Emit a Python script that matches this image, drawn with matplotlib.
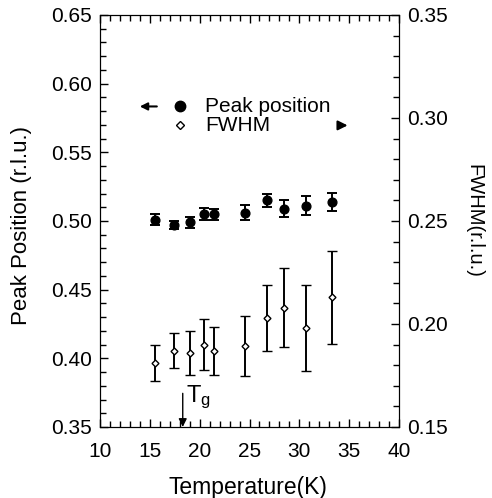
#!/usr/bin/env python3

import matplotlib
matplotlib.use("Agg")
import matplotlib.pyplot as plt
from matplotlib.ticker import MultipleLocator, FormatStrFormatter

plt.rcParams['font.family'] = ['Liberation Sans', 'DejaVu Sans']
plt.rcParams['mathtext.fontset'] = 'custom'
plt.rcParams['mathtext.rm'] = 'Liberation Sans'
plt.rcParams['mathtext.it'] = 'Liberation Sans'

# data
temp = [15.5, 17.4, 19.0, 20.4, 21.4, 24.5, 26.8, 28.5, 30.7, 33.3]
peak_pos = [0.501, 0.497, 0.499, 0.505, 0.505, 0.506, 0.515, 0.509, 0.511, 0.514]
peak_err = [0.004, 0.003, 0.004, 0.0045, 0.004, 0.0056, 0.005, 0.006, 0.007, 0.0067]
fwhm = [0.181, 0.187, 0.186, 0.190, 0.187, 0.1895, 0.203, 0.208, 0.198, 0.213]
fwhm_err = [0.0089, 0.0084, 0.0106, 0.0125, 0.0117, 0.0146, 0.016, 0.019, 0.021, 0.0226]
t_g = 18.3

fig = plt.figure(figsize=(4.92, 4.98), dpi=100)
ax = fig.add_axes([0.2033, 0.1426, 0.6077, 0.8273])
ax2 = ax.twinx()

ax.errorbar(temp, peak_pos, yerr=peak_err, fmt='o', color='black', ms=6.3,
            capsize=3.5, elinewidth=1.4, capthick=1.4)
ax2.errorbar(temp, fwhm, yerr=fwhm_err, fmt='D', color='black', mfc='white',
             mec='black', mew=1.0, ms=3.5, capsize=3.5, elinewidth=1.4, capthick=1.4)

ax.set_xlim(10, 40)
ax.set_ylim(0.35, 0.65)
ax2.set_ylim(0.15, 0.35)

ax.xaxis.set_major_locator(MultipleLocator(5))
ax.xaxis.set_minor_locator(MultipleLocator(1))
ax.yaxis.set_major_locator(MultipleLocator(0.05))
ax.yaxis.set_minor_locator(MultipleLocator(0.01))
ax2.yaxis.set_major_locator(MultipleLocator(0.05))
ax2.yaxis.set_minor_locator(MultipleLocator(0.01))
ax.yaxis.set_major_formatter(FormatStrFormatter('%.2f'))
ax2.yaxis.set_major_formatter(FormatStrFormatter('%.2f'))

ax.tick_params(which='both', direction='in', top=True, right=False, labelsize=15, width=1)
ax.tick_params(which='major', length=6)
ax.tick_params(which='minor', length=4)
ax.tick_params(axis='x', which='both', pad=11)
ax.tick_params(axis='y', which='both', pad=6)
ax2.tick_params(which='both', direction='in', labelsize=15, width=1, pad=5.5)
ax2.tick_params(which='major', length=6)
ax2.tick_params(which='minor', length=4)

fig.text(248 / 492, 1 - 487 / 498, "Temperature(K)", fontsize=16.5, ha='center', va='center')
fig.text(22 / 492, 1 - 225 / 498, "Peak Position (r.l.u.)", fontsize=16,
         rotation=90, ha='center', va='center')
fig.text(474 / 492, 1 - 221 / 498, "FWHM(r.l.u.)", fontsize=14.5,
         rotation=270, ha='center', va='center')

# hand-drawn legend
ax.plot([0.268], [0.778], 'o', color='black', ms=7.5, transform=ax.transAxes)
ax.plot([0.268], [0.732], 'D', mfc='white', mec='black', mew=1.0, ms=4.5,
        transform=ax.transAxes)
ax.text(0.351, 0.778, "Peak position", fontsize=15, va='center', transform=ax.transAxes)
ax.text(0.351, 0.732, "FWHM", fontsize=15, va='center', transform=ax.transAxes)
ax.annotate("", xy=(0.133, 0.778), xytext=(0.19, 0.778), xycoords='axes fraction',
            arrowprops=dict(arrowstyle='-|>', color='black', lw=1.5,
                            mutation_scale=11, shrinkA=0, shrinkB=0))
ax.annotate("", xy=(0.828, 0.732), xytext=(0.80, 0.732), xycoords='axes fraction',
            arrowprops=dict(arrowstyle='-|>', color='black', lw=1.5,
                            mutation_scale=14, shrinkA=0, shrinkB=0))

# T_g marker
ax.annotate("", xy=(t_g, 0.35), xytext=(t_g, 0.3745),
            arrowprops=dict(arrowstyle='-|>', color='black', lw=1.0,
                            mutation_scale=12, shrinkA=0, shrinkB=0))
ax.text(t_g + 0.35, 0.3683, r'T$_{\mathrm{g}}$', fontsize=17, va='baseline')

fig.savefig("out.png", dpi=100)
